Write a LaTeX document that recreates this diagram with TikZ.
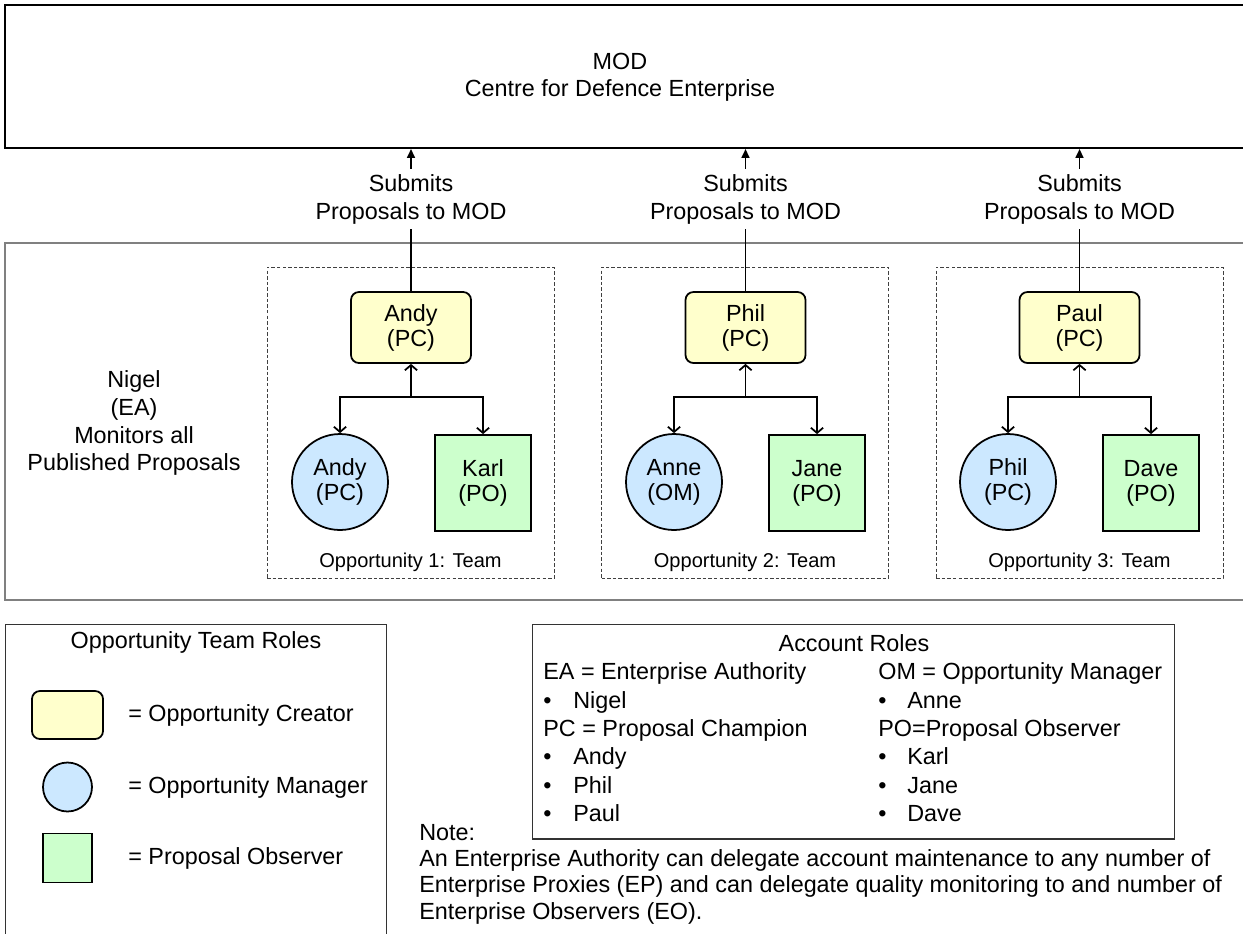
\documentclass[tikz,border=0pt]{standalone}
\usepackage{fontspec}
\setmainfont{Liberation Sans}
\usetikzlibrary{arrows.meta}
\definecolor{creator}{HTML}{FFFFCC}
\definecolor{manager}{HTML}{CCE8FF}
\definecolor{observer}{HTML}{CCFFCC}
\definecolor{frame}{HTML}{808080}

\begin{document}
\begin{tikzpicture}[x=0.02cm,y=-0.02cm,font=\fontsize{13.3}{14.2}\selectfont,
	pc/.style={draw,line width=1pt,fill=creator,rounded corners=4.5pt,minimum width=2.4cm,minimum height=1.42cm,align=center,inner sep=0pt},
	om/.style={draw,line width=1pt,fill=manager,circle,minimum size=1.92cm,align=center,inner sep=0pt},
	po/.style={draw,line width=1pt,fill=observer,minimum size=1.92cm,align=center,inner sep=0pt},
	teambox/.style={draw=black!75,dash pattern=on 2pt off 1.2pt,line width=0.5pt,minimum width=5.74cm,minimum height=6.22cm,inner sep=0pt},
	teamlabel/.style={font=\fontsize{11.4}{13}\selectfont,inner sep=0pt},
	submitlabel/.style={align=center,inner sep=3pt,font=\fontsize{13.3}{15.9}\selectfont},
	submit/.style={line width=1pt,-{Triangle[length=5pt,width=4.5pt]}},
	link/.style={line width=1pt,-{Straight Barb[length=3pt,width=7pt]}},
	rolecol/.style={anchor=north west,align=left,inner sep=0pt,font=\fontsize{13.3}{16.1}\selectfont}]
	\useasboundingbox (0,0) rectangle (1243,933);
	\node[draw,line width=1.2pt,minimum width=25.1cm,minimum height=2.86cm,inner sep=0pt] (MOD) at (632.5,76.5) {};
	\node[align=center,font=\fontsize{13.3}{15.6}\selectfont] (MODL) at (620,77) {MOD\\Centre for Defence Enterprise};
	\node[draw=frame,line width=1pt,minimum width=25.1cm,minimum height=7.14cm,inner sep=0pt] (ENT) at (632.5,421.5) {};
	\node[align=center,font=\fontsize{13.3}{15.9}\selectfont] (EA) at (134,423) {Nigel\\(EA)\\Monitors all\\Published Proposals};
	\node[teambox] (T1) at (410.5,422.5) {};
	\node[teambox] (T2) at (745,422.5) {};
	\node[teambox] (T3) at (1079.5,422.5) {};
	\node[teamlabel] (TL1) at (410.5,562) {Opportunity 1: Team};
	\node[teamlabel] (TL2) at (745,562) {Opportunity 2: Team};
	\node[teamlabel] (TL3) at (1079.5,562) {Opportunity 3: Team};
	\node[submitlabel] (S1) at (411,199) {Submits\\Proposals to MOD};
	\node[submitlabel] (S2) at (745.5,199) {Submits\\Proposals to MOD};
	\node[submitlabel] (S3) at (1079.5,199) {Submits\\Proposals to MOD};
	\node[pc] (PC1) at (411,327.5) {Andy\\(PC)};
	\node[pc] (PC2) at (745.5,327.5) {Phil\\(PC)};
	\node[pc] (PC3) at (1079.5,327.5) {Paul\\(PC)};
	\node[om] (OM1) at (340,482) {Andy\\(PC)};
	\node[om] (OM2) at (674,482) {Anne\\(OM)};
	\node[om] (OM3) at (1008,482) {Phil\\(PC)};
	\node[po] (PO1) at (483,483) {Karl\\(PO)};
	\node[po] (PO2) at (817,483) {Jane\\(PO)};
	\node[po] (PO3) at (1151,483) {Dave\\(PO)};
	\coordinate (J1) at (411,397);
	\coordinate (J2) at (745.5,397);
	\coordinate (J3) at (1079.5,397);
	\draw[submit] (S1.north) -- (S1.north |- MOD.south);
	\draw[submit] (S2.north) -- (S2.north |- MOD.south);
	\draw[submit] (S3.north) -- (S3.north |- MOD.south);
	\draw[line width=1pt] (PC1.north) -- (S1.south);
	\draw[line width=1pt] (PC2.north) -- (S2.south);
	\draw[line width=1pt] (PC3.north) -- (S3.south);
	\draw[link] (J1) -- (PC1.south);
	\draw[link] (J1) -| (OM1.north);
	\draw[link] (J1) -| (PO1.north);
	\draw[link] (J2) -- (PC2.south);
	\draw[link] (J2) -| (OM2.north);
	\draw[link] (J2) -| (PO2.north);
	\draw[link] (J3) -- (PC3.south);
	\draw[link] (J3) -| (OM3.north);
	\draw[link] (J3) -| (PO3.north);
	\node[draw=black!80,line width=0.6pt,minimum width=7.64cm,minimum height=6.52cm,inner sep=0pt] (LEG) at (196,787) {};
	\node (LEGT) at (196,642) {Opportunity Team Roles};
	\node[pc,minimum width=1.42cm,minimum height=0.96cm] (LC) at (67.5,715) {};
	\node[om,minimum size=0.98cm] (LM) at (67.5,787) {};
	\node[po,minimum size=0.98cm] (LO) at (67.5,858) {};
	\node[anchor=west,inner sep=0pt] (LCT) at (128,715) {= Opportunity Creator};
	\node[anchor=west,inner sep=0pt] (LMT) at (128,787) {= Opportunity Manager};
	\node[anchor=west,inner sep=0pt] (LOT) at (128,858) {= Proposal Observer};
	\node[draw=black!80,line width=0.6pt,minimum width=12.86cm,minimum height=4.3cm,inner sep=0pt] (ACC) at (853.5,731.5) {};
	\node (ACCT) at (854,643) {Account Roles};
	\node[rolecol] (EAPC) at (543,662.6) {EA = Enterprise Authority\\\makebox[0.6cm][l]{\textbullet}Nigel\\PC = Proposal Champion\\\makebox[0.6cm][l]{\textbullet}Andy\\\makebox[0.6cm][l]{\textbullet}Phil\\\makebox[0.6cm][l]{\textbullet}Paul};
	\node[rolecol] (OMPO) at (878,662.6) {OM = Opportunity Manager\\\makebox[0.58cm][l]{\textbullet}Anne\\PO=Proposal Observer\\\makebox[0.58cm][l]{\textbullet}Karl\\\makebox[0.58cm][l]{\textbullet}Jane\\\makebox[0.58cm][l]{\textbullet}Dave};
	\node[rolecol,font=\fontsize{13.3}{15}\selectfont] (NOTE) at (419,823.6) {Note:\\An Enterprise Authority can delegate account maintenance to any number of\\Enterprise Proxies (EP) and can delegate quality monitoring to and number of\\Enterprise Observers (EO).};
\end{tikzpicture}
\end{document}
